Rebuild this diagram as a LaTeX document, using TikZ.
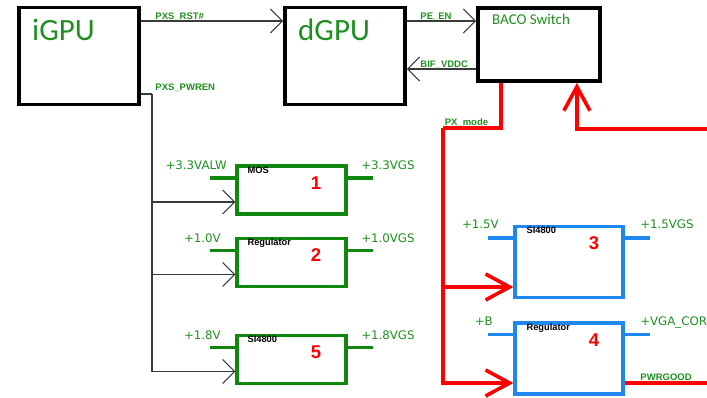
\documentclass[tikz,border=0pt]{standalone}
\usepackage{fontspec}
\setmainfont{DejaVu Sans}
\newfontfamily\calfont{Carlito}
\newfontfamily\arialfont{Liberation Sans}
\usetikzlibrary{arrows.meta,positioning,calc}
\definecolor{txtgreen}{HTML}{1F8F1F}
\definecolor{boxgreen}{HTML}{108810}
\definecolor{boxblue}{HTML}{1E88F0}
\definecolor{wiregray}{HTML}{3A3A3A}
\definecolor{pxred}{HTML}{FF0000}

\begin{document}
\begin{tikzpicture}[x=1pt,y=-1pt,
			chipbox/.style={draw=black,line width=3.8pt,minimum width=120pt,minimum height=97pt,inner sep=0},
			gnbox/.style={draw=boxgreen,line width=3.3pt,minimum width=109pt,minimum height=48pt,inner sep=0},
			blbox/.style={draw=boxblue,line width=3.3pt,minimum width=108pt,minimum height=71pt,inner sep=0},
			bigname/.style={text=txtgreen,font=\calfont\fontsize{31}{31}\selectfont,inner sep=0,anchor=base west},
			netlbl/.style={text=txtgreen,font=\arialfont\bfseries\fontsize{9.5}{10}\selectfont,inner sep=0},
			partlbl/.style={text=black,font=\arialfont\bfseries\fontsize{9.3}{10}\selectfont,inner sep=0,anchor=north west},
			numlbl/.style={text=pxred,font=\arialfont\bfseries\fontsize{18.5}{19}\selectfont,inner sep=0},
			voltlbl/.style={text=txtgreen,font=\fontsize{11.8}{12}\selectfont,inner sep=0},
			wire/.style={wiregray,line width=1.1pt},
			wirearr/.style={wire,-{Straight Barb[length=12pt,width=24pt]}},
			gpwr/.style={boxgreen,line width=3.2pt},
			bpwr/.style={boxblue,line width=3.2pt},
			redw/.style={pxred,line width=3.6pt},
			redarr/.style={redw,-{Straight Barb[length=24pt,width=26pt]}}
			]
			\useasboundingbox (0,0) rectangle (707,397);
			% main chips
			\node[chipbox] (igpu) at (79,56) {};
			\node[chipbox] (dgpu) at (345,56) {};
			\node[chipbox,minimum width=122pt,minimum height=73pt] (baco) at (539,44.5) {};
			\node[bigname] (igpun) at (32,40) {iGPU};
			\node[bigname] (dgpun) at (298,40) {dGPU};
			\node[bigname,font=\calfont\fontsize{15}{15}\selectfont] (bacon) at (492,24) {BACO Switch};
			% signals between chips
			\draw[wirearr] (igpu.east |- 0,21) node[netlbl,anchor=base west,xshift=14pt,yshift=1.5pt] (rstl) {PXS\_RST\#} -- (dgpu.west |- 0,21);
			\draw[wirearr] (dgpu.east |- 0,21) node[netlbl,anchor=base west,xshift=13pt,yshift=2pt] (penl) {PE\_EN} -- (baco.west |- 0,21);
			\draw[wirearr] (baco.west |- 0,69) -- (dgpu.east |- 0,69) node[netlbl,anchor=base west,xshift=13pt,yshift=2pt] (bifl) {BIF\_VDDC};
			% green regulators
			\node[gnbox] (g1) at (291.5,190) {};
			\node[gnbox] (g2) at (291.5,262.5) {};
			\node[gnbox] (g5) at (291.5,359.5) {};
			\node[partlbl] (g1p) at ([shift={(12pt,-2pt)}]g1.north west) {MOS};
			\node[partlbl] (g2p) at ([shift={(12pt,-2pt)}]g2.north west) {Regulator};
			\node[partlbl] (g5p) at ([shift={(12pt,-2pt)}]g5.north west) {SI4800};
			\node[numlbl] (g1n) at ([shift={(24.5pt,7pt)}]g1.center) {1};
			\node[numlbl] (g2n) at ([shift={(24.5pt,7pt)}]g2.center) {2};
			\node[numlbl] (g5n) at ([shift={(24.5pt,7pt)}]g5.center) {5};
			\draw[gpwr] ([yshift=12pt]g1.west) -- ++(-25pt,0) node[voltlbl,anchor=base east,xshift=18pt,yshift=8.5pt] (g1in) {+3.3VALW};
			\draw[gpwr] ([yshift=12pt]g2.west) -- ++(-25pt,0) node[voltlbl,anchor=base east,xshift=12pt,yshift=8.5pt] (g2in) {+1.0V};
			\draw[gpwr] ([yshift=12pt]g5.west) -- ++(-25pt,0) node[voltlbl,anchor=base east,xshift=12pt,yshift=8.5pt] (g5in) {+1.8V};
			\draw[gpwr] ([yshift=12pt]g1.east) -- ++(25pt,0) node[voltlbl,anchor=base west,xshift=-13pt,yshift=8.5pt] (g1out) {+3.3VGS};
			\draw[gpwr] ([yshift=12pt]g2.east) -- ++(25pt,0) node[voltlbl,anchor=base west,xshift=-13pt,yshift=8.5pt] (g2out) {+1.0VGS};
			\draw[gpwr] ([yshift=12pt]g5.east) -- ++(25pt,0) node[voltlbl,anchor=base west,xshift=-13pt,yshift=8.5pt] (g5out) {+1.8VGS};
			% PXS_PWREN bus
			\coordinate (bustop) at (152,94);
			\draw[wire] (igpu.east |- bustop) node[netlbl,anchor=base west,xshift=14pt,yshift=3.5pt] (pwrenl) {PXS\_PWREN} -- (bustop);
			\draw[wirearr] (bustop) |- ([yshift=-12pt]g1.west);
			\draw[wirearr] (bustop) |- ([yshift=-12pt]g2.west);
			\draw[wirearr] (bustop) |- ([yshift=-12pt]g5.west);
			% blue regulators
			\node[blbox] (b3) at (569,262) {};
			\node[blbox] (b4) at (569,358.5) {};
			\node[partlbl] (b3p) at ([shift={(13pt,-2pt)}]b3.north west) {SI4800};
			\node[partlbl] (b4p) at ([shift={(13pt,-2pt)}]b4.north west) {Regulator};
			\node[numlbl] (b3n) at ([shift={(25pt,18.5pt)}]b3.center) {3};
			\node[numlbl] (b4n) at ([shift={(25pt,18.5pt)}]b4.center) {4};
			\draw[bpwr] ([yshift=24pt]b3.west) -- ++(-25pt,0) node[voltlbl,anchor=base east,xshift=12pt,yshift=9.5pt] (b3in) {+1.5V};
			\draw[bpwr] ([yshift=24pt]b4.west) -- ++(-25pt,0) node[voltlbl,anchor=base east,xshift=6pt,yshift=9.5pt] (b4in) {+B};
			\draw[bpwr] ([yshift=24pt]b3.east) -- ++(25pt,0) node[voltlbl,anchor=base west,xshift=-11pt,yshift=9.5pt] (b3out) {+1.5VGS};
			\draw[bpwr] ([yshift=24pt]b4.east) -- ++(25pt,0) node[voltlbl,anchor=base west,xshift=-11pt,yshift=9.5pt] (b4out) {+VGA\_COR};
			% PX_mode and PWRGOOD
			\coordinate (pxm) at (443,128);
			\coordinate (pgret) at (707,129);
			\draw[redw] ([xshift=25pt]baco.south west) |- (pxm) node[netlbl,anchor=base west,xshift=0pt,yshift=3pt] (pxml) {PX\_mode};
			\draw[redarr] (pxm) |- ([yshift=-25pt]b3.west);
			\draw[redarr] (pxm) |- ([yshift=-24.5pt]b4.west);
			\coordinate (b4pg) at ([yshift=-24.5pt]b4.east);
			\draw[redw] (b4pg) node[netlbl,anchor=base west,xshift=14pt,yshift=2.5pt] (pwrgood) {PWRGOOD} -- (b4pg -| pgret);
			\draw[redarr] (pgret) -| ([xshift=-25pt]baco.south east);
		\end{tikzpicture}
\end{document}
